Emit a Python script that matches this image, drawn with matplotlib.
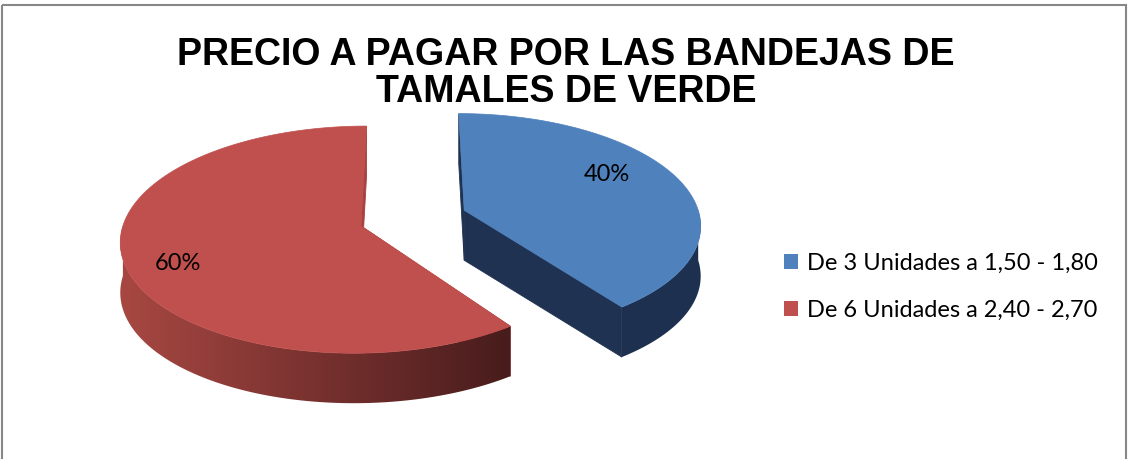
import numpy as np
import matplotlib
matplotlib.use("Agg")
import matplotlib.pyplot as plt
from matplotlib.patches import Polygon, Patch, Rectangle

########################################################################
# Data

title_lines = ["PRECIO A PAGAR POR LAS BANDEJAS DE", "TAMALES DE VERDE"]
categories = ["De 3 Unidades a 1,50 - 1,80", "De 6 Unidades a 2,40 - 2,70"]
shares = [40, 60]

top_colors = ["#4F81BD", "#C0504D"]

body_font = ["Lato", "DejaVu Sans"]

########################################################################
# Layout of the 3-D pie (pixel units of the figure)

CX, CY = 413, 218        # centre of the un-exploded pie
RX, RY = 236, 110        # radii of the top ellipse
PERSP = 0.12             # front is drawn bigger than back
DEPTH = 50               # thickness of the pie
EXPLODE = 0.23           # offset of each slice, in radius units
label_shift = [-10, -6]  # degrees, label angle relative to slice middle
label_radius = [0.73, 0.80]

# wall shading: colour at the left and right end of each slice's wall
side_left = [(0.12, 0.19, 0.31), (0.66, 0.28, 0.26)]
side_right = [(0.12, 0.19, 0.31), (0.28, 0.11, 0.11)]
side_radial = ["#1F3251", "#A8423F"]


def proj(u, v):
    f = 1.0 / (1.0 - PERSP * v)
    return CX + RX * u * f, CY + RY * v * f


########################################################################
# Figure

fig = plt.figure(figsize=(11.29, 4.59), dpi=100)
ax = fig.add_axes([0, 0, 1, 1])

ax.add_patch(Rectangle((1.5, 4.5), 1124.5, 470, fill=False,
                       edgecolor="#878787", linewidth=1.5, zorder=10))

bounds = np.cumsum([0] + shares) / sum(shares) * 360.0

for i, share in enumerate(shares):
    a0, a1 = bounds[i], bounds[i + 1]
    mid = np.radians((a0 + a1) / 2)
    u0, v0 = EXPLODE * np.sin(mid), -EXPLODE * np.cos(mid)
    zs, zt = 2 * i + 1, 2 * i + 2

    # top face
    t = np.radians(np.linspace(a0, a1, 240))
    xs, ys = proj(np.concatenate([[u0], u0 + np.sin(t)]),
                  np.concatenate([[v0], v0 - np.cos(t)]))
    pts = np.column_stack([xs, ys])

    # radial walls
    for p, q in [(pts[0], pts[1]), (pts[0], pts[-1])]:
        quad = [p, q, q + [0, DEPTH], p + [0, DEPTH]]
        ax.add_patch(Polygon(quad, closed=True, facecolor=side_radial[i],
                             edgecolor=side_radial[i], linewidth=0.6, zorder=zs))

    # outer wall, only the front part of the rim is visible
    lo, hi = max(a0, 90.0), min(a1, 270.0)
    if lo < hi:
        tw = np.radians(np.linspace(lo, hi, 200))
        wx, wy = proj(u0 + np.sin(tw), v0 - np.cos(tw))
        rim = np.column_stack([wx, wy])
        wall = np.vstack([rim, rim[::-1] + [0, DEPTH]])
        clip = Polygon(wall, closed=True, facecolor="none", edgecolor="none")
        ax.add_patch(clip)
        x0, x1 = wall[:, 0].min(), wall[:, 0].max()
        y0, y1 = wall[:, 1].min(), wall[:, 1].max()
        s = np.linspace(0, 1, 256)[:, None]
        grad = np.array(side_left[i]) + (np.array(side_right[i]) - np.array(side_left[i])) * s
        img = ax.imshow(grad[None, :, :], extent=(x0 - 1, x1 + 1, y1 + 1, y0 - 1),
                        aspect="auto", interpolation="bilinear", zorder=zs)
        img.set_clip_path(clip)

    ax.add_patch(Polygon(pts, closed=True, facecolor=top_colors[i],
                         edgecolor=top_colors[i], linewidth=0.5, zorder=zt))

    la = np.radians((a0 + a1) / 2 + label_shift[i])
    lx, ly = proj(u0 + label_radius[i] * np.sin(la), v0 - label_radius[i] * np.cos(la))
    ax.text(lx, ly, f"{share}%", ha="center", va="center", fontsize=17,
            family=body_font, color="black", zorder=10)

ax.set_xlim(0, 1129)
ax.set_ylim(459, 0)
ax.set_aspect("auto")
ax.axis("off")

# title
ax.text(566, 65, title_lines[0], ha="center", va="baseline", fontsize=27,
        fontweight="bold", family="Liberation Sans")
ax.text(566, 102, title_lines[1], ha="center", va="baseline", fontsize=27,
        fontweight="bold", family="Liberation Sans")

handles = [Patch(facecolor=c, edgecolor="none") for c in top_colors]
ax.legend(handles, categories, loc="upper left", bbox_to_anchor=(784, 253),
          bbox_transform=ax.transData, frameon=False, borderpad=0,
          borderaxespad=0, handlelength=0.58, handleheight=0.6,
          handletextpad=0.4, labelspacing=1.1,
          prop={"family": body_font, "size": 17})

fig.savefig("out.png", dpi=100)
